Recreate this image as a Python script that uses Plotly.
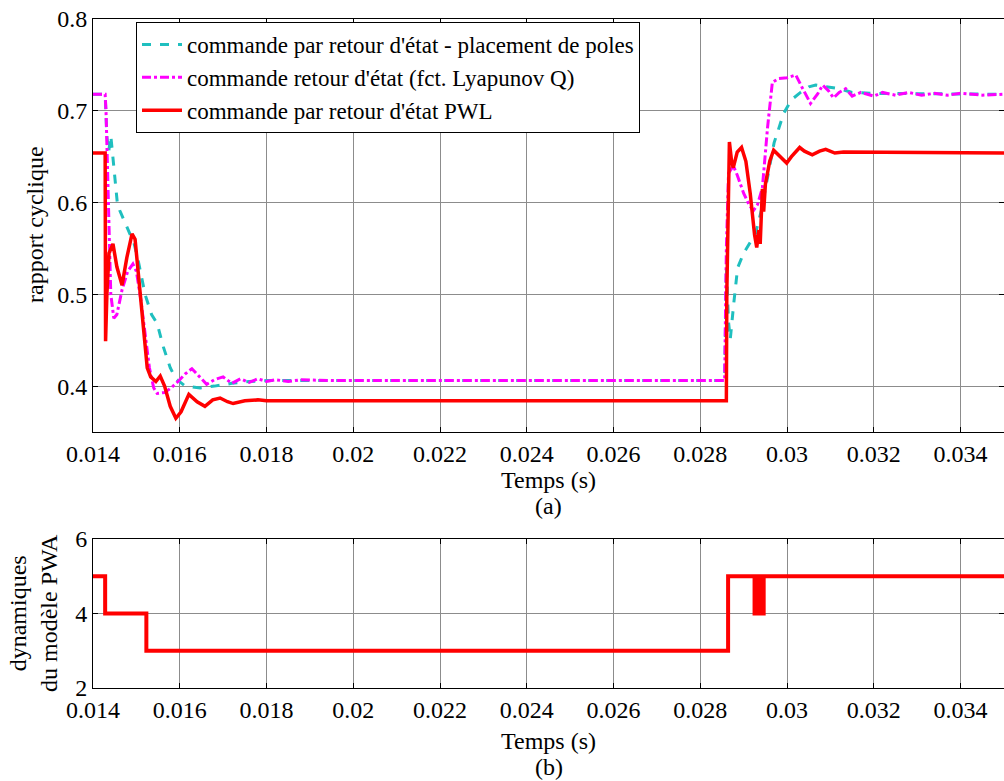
import plotly.graph_objects as go

# ---------------- data ----------------
t_pwl = [0.0140, 0.01428, 0.01429, 0.01432, 0.01437, 0.01446, 0.01455, 0.01467, 0.01478,
         0.01490, 0.01497, 0.01505, 0.01515, 0.01525, 0.01533, 0.01545, 0.01555, 0.01565,
         0.01578, 0.01591, 0.01603, 0.01621, 0.01640, 0.01658, 0.01676, 0.01693, 0.01710,
         0.01723, 0.01750, 0.01780, 0.01800, 0.02860, 0.02861, 0.02865, 0.02867, 0.02872,
         0.02876, 0.02885, 0.02895, 0.02905, 0.02915, 0.02925, 0.02930, 0.02935, 0.02938,
         0.02943, 0.02946, 0.02950, 0.02960, 0.02969, 0.02980, 0.02999, 0.03010, 0.03029,
         0.03040, 0.03058, 0.03075, 0.03089, 0.03110, 0.03130, 0.03500]
u_pwl = [0.654, 0.654, 0.449, 0.500, 0.545, 0.555, 0.530, 0.510, 0.540,
         0.566, 0.560, 0.520, 0.460, 0.420, 0.410, 0.405, 0.411, 0.400,
         0.378, 0.365, 0.372, 0.391, 0.383, 0.378, 0.385, 0.387, 0.383,
         0.381, 0.384, 0.385, 0.384, 0.384, 0.500, 0.620, 0.666, 0.645,
         0.638, 0.655, 0.660, 0.645, 0.610, 0.565, 0.551, 0.570, 0.555,
         0.615, 0.590, 0.620, 0.645, 0.657, 0.652, 0.643, 0.650, 0.660,
         0.656, 0.652, 0.656, 0.658, 0.654, 0.655, 0.654]

t_lyap = [0.0140, 0.01428, 0.01430, 0.01436, 0.01441, 0.01448, 0.01455, 0.01467, 0.01480,
          0.01492, 0.01500, 0.01510, 0.01520, 0.01530, 0.01540, 0.01548, 0.01565, 0.01580,
          0.01596, 0.01612, 0.01628, 0.01645, 0.01662, 0.01680, 0.01700, 0.01720, 0.01740,
          0.01760, 0.01780, 0.01800, 0.01820, 0.01850, 0.01880, 0.01950, 0.02856, 0.02860,
          0.02865, 0.02876, 0.02885, 0.02900, 0.02912, 0.02922, 0.02932, 0.02943, 0.02955,
          0.02966, 0.02980, 0.03000, 0.03020, 0.03035, 0.03054, 0.03070, 0.03082, 0.03095,
          0.03107, 0.03120, 0.03135, 0.03150, 0.03170, 0.03200, 0.03220, 0.03250, 0.03280,
          0.03310, 0.03340, 0.03370, 0.03400, 0.03450, 0.03500]
u_lyap = [0.718, 0.718, 0.700, 0.600, 0.500, 0.474, 0.478, 0.505, 0.525,
          0.533, 0.525, 0.495, 0.455, 0.420, 0.398, 0.392, 0.393, 0.398,
          0.405, 0.413, 0.419, 0.410, 0.402, 0.407, 0.410, 0.403, 0.408,
          0.404, 0.408, 0.405, 0.407, 0.405, 0.407, 0.406, 0.406, 0.550,
          0.632, 0.640, 0.630, 0.610, 0.598, 0.591, 0.598, 0.616, 0.682,
          0.731, 0.735, 0.736, 0.739, 0.725, 0.708, 0.718, 0.728, 0.722,
          0.714, 0.720, 0.724, 0.716, 0.720, 0.716, 0.720, 0.717, 0.720,
          0.717, 0.719, 0.717, 0.719, 0.717, 0.718]

t_pole = [0.0140, 0.01428, 0.01432, 0.01436, 0.01441, 0.01450, 0.01456, 0.01462, 0.01472,
          0.01485, 0.01495, 0.01505, 0.01520, 0.01535, 0.01548, 0.01562, 0.01578, 0.01591,
          0.01610, 0.01630, 0.01647, 0.01680, 0.01720, 0.01760, 0.01800, 0.02856, 0.02860,
          0.02865, 0.02869, 0.02877, 0.02886, 0.02900, 0.02915, 0.02927, 0.02940, 0.02955,
          0.02970, 0.02992, 0.03010, 0.03031, 0.03050, 0.03066, 0.03090, 0.03120, 0.03150,
          0.03200, 0.03500]
u_pole = [0.718, 0.718, 0.672, 0.655, 0.673, 0.630, 0.600, 0.591, 0.580,
          0.567, 0.555, 0.535, 0.500, 0.478, 0.468, 0.443, 0.420, 0.408,
          0.401, 0.399, 0.398, 0.400, 0.403, 0.405, 0.406, 0.406, 0.530,
          0.470, 0.451, 0.490, 0.529, 0.545, 0.556, 0.566, 0.590, 0.627,
          0.665, 0.697, 0.712, 0.720, 0.726, 0.728, 0.726, 0.724, 0.720,
          0.719, 0.718]

t_mode = [0.0140, 0.01428, 0.01523, 0.02864, 0.02925, 0.02928, 0.02931, 0.02934, 0.02937,
          0.02940, 0.02943, 0.02946, 0.03500]
mode = [5, 4, 3, 5, 4, 5, 4, 5, 4, 5, 4, 5, 5]

x_ticks = [0.014, 0.016, 0.018, 0.020, 0.022, 0.024, 0.026, 0.028, 0.030, 0.032, 0.034]
x_tick_text = ["0.014", "0.016", "0.018", "0.02", "0.022", "0.024", "0.026", "0.028",
               "0.03", "0.032", "0.034"]
y1_ticks = [0.4, 0.5, 0.6, 0.7, 0.8]
y2_ticks = [2, 4, 6]

# ---------------- figure ----------------
FONT = "Times New Roman"
W, H = 1004, 781
ML, MT, MB = 93, 19, 93
plot_h = H - MT - MB


def py2paper(py):
    return (H - MB - py) / plot_h


fig = go.Figure()

fig.add_trace(go.Scatter(x=t_pole, y=u_pole, mode="lines",
                         name="commande par retour d'état - placement de poles",
                         line=dict(color="#1FBFBF", width=3, dash="dash"),
                         xaxis="x", yaxis="y"))
fig.add_trace(go.Scatter(x=t_lyap, y=u_lyap, mode="lines",
                         name="commande retour d'état (fct. Lyapunov Q)",
                         line=dict(color="#FF00FF", width=3, dash="dashdot"),
                         xaxis="x", yaxis="y"))
fig.add_trace(go.Scatter(x=t_pwl, y=u_pwl, mode="lines",
                         name="commande par retour d'état PWL",
                         line=dict(color="#FF0000", width=3.5),
                         xaxis="x", yaxis="y"))
fig.add_trace(go.Scatter(x=t_mode, y=mode, mode="lines", line_shape="hv",
                         showlegend=False,
                         line=dict(color="#FF0000", width=4),
                         xaxis="x2", yaxis="y2"))

axis_common = dict(showline=True, linecolor="black", linewidth=1, mirror="ticks",
                   ticks="inside", ticklen=5, tickcolor="black", automargin=False,
                   showgrid=True, gridcolor="#8C8C8C", gridwidth=1, zeroline=False,
                   tickfont=dict(family=FONT, size=24, color="black"))

fig.update_layout(
    template="none",
    width=W, height=H,
    margin=dict(l=ML, r=0, t=MT, b=MB, autoexpand=False),
    paper_bgcolor="white", plot_bgcolor="white",
    font=dict(family=FONT, color="black", size=24),
    xaxis=dict(domain=[0, 1], range=[0.014, 0.035], anchor="y",
               tickvals=x_ticks, ticktext=x_tick_text, **axis_common),
    yaxis=dict(domain=[py2paper(432), 1], range=[0.35, 0.8], anchor="x",
               tickvals=y1_ticks, ticktext=["0.4", "0.5", "0.6", "0.7", "0.8"], **axis_common),
    xaxis2=dict(domain=[0, 1], range=[0.014, 0.035], anchor="y2",
                tickvals=x_ticks, ticktext=x_tick_text, **axis_common),
    yaxis2=dict(domain=[0, py2paper(539)], range=[2, 6], anchor="x2",
                tickvals=y2_ticks, ticktext=["2", "4", "6"], **axis_common),
    legend=dict(x=(136 - ML) / (W - ML), y=py2paper(22), xanchor="left", yanchor="top",
                bgcolor="white", bordercolor="black", borderwidth=1,
                font=dict(family=FONT, size=23, color="black"),
                tracegroupgap=0, itemwidth=40),
    showlegend=True,
)

ann = [
    dict(text="Temps (s)", x=0.5, y=py2paper(480)),
    dict(text="(a)", x=0.5, y=py2paper(506)),
    dict(text="Temps (s)", x=0.5, y=py2paper(741)),
    dict(text="(b)", x=0.5, y=py2paper(767)),
]
for a in ann:
    fig.add_annotation(xref="paper", yref="paper", showarrow=False,
                       xanchor="center", yanchor="middle",
                       font=dict(family=FONT, size=24, color="black"), **a)

fig.add_annotation(xref="paper", yref="paper", showarrow=False, textangle=-90,
                   x=(35 - ML) / (W - ML), y=py2paper(225), xanchor="center", yanchor="middle",
                   text="rapport cyclique", font=dict(family=FONT, size=24, color="black"))
fig.add_annotation(xref="paper", yref="paper", showarrow=False, textangle=-90,
                   x=(33 - ML) / (W - ML), y=py2paper(613), xanchor="center", yanchor="middle",
                   text="dynamiques<br>du modèle PWA",
                   font=dict(family=FONT, size=24, color="black"))

fig.write_html("out.html", config={"displayModeBar": False},
               post_script="document.body.style.margin='0';")
